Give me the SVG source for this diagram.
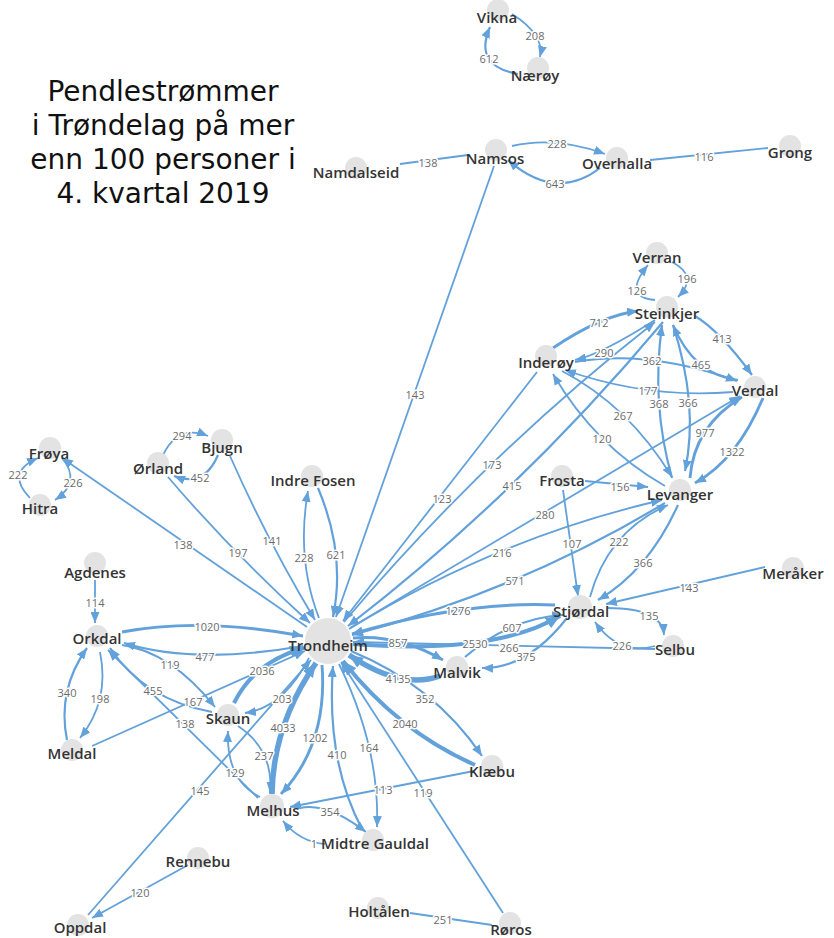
<svg xmlns="http://www.w3.org/2000/svg" width="834" height="938" viewBox="0 0 834 938">
<style>
.e{fill:none;stroke:#62a1da;stroke-linecap:butt}
.w1{stroke-width:1.8}.w2{stroke-width:2.2}.w3{stroke-width:2.9}.w4{stroke-width:4}.w5{stroke-width:5.5}
.m{marker-end:url(#a)}.M{marker-end:url(#b)}
.l{font-family:"Open Sans","Liberation Sans",sans-serif;font-size:11px;fill:#6a6a6a;text-anchor:middle;dominant-baseline:central;stroke:#fff;stroke-width:3px;paint-order:stroke;stroke-linejoin:round}
.n circle{fill:#e3e3e3}
.n text{font-family:"Open Sans","Liberation Sans",sans-serif;font-size:15px;font-weight:600;fill:#333;text-anchor:middle;dominant-baseline:central}
.t{font-family:"DejaVu Sans","Liberation Sans",sans-serif;font-size:28px;fill:#111;text-anchor:middle}
</style>
<defs>
<marker id="a" markerUnits="userSpaceOnUse" markerWidth="11" markerHeight="9" refX="11" refY="4.5" orient="auto"><path d="M0,0L11,4.5L0,9z" fill="#62a1da"/></marker>
<marker id="b" markerUnits="userSpaceOnUse" markerWidth="14" markerHeight="12" refX="14" refY="6" orient="auto"><path d="M0,0L14,6L0,12z" fill="#62a1da"/></marker>
</defs>
<rect width="834" height="938" fill="#fff"/>
<g id="title">
<text class="t" x="163" y="101">Pendlestrømmer</text>
<text class="t" x="163" y="135">i Trøndelag på mer</text>
<text class="t" x="163" y="169">enn 100 personer i</text>
<text class="t" x="163" y="203">4. kvartal 2019</text>
</g>
<g id="connectors">
<path class="e w1 m" d="M512,14Q545,35 540,57"/>
<path class="e w2 m" d="M518,74Q473,66 490,27"/>
<path class="e w1" d="M400,164L468,155"/>
<path class="e w1 m" d="M512,146Q556,136 605,154"/>
<path class="e w2 m" d="M600,168Q556,202 508,160"/>
<path class="e w1" d="M650,160L768,148"/>
<path class="e w1 m" d="M494,166L336,617"/>
<path class="e w1 m" d="M655,300Q622,297 648,265"/>
<path class="e w1 m" d="M672,262Q699,276 678,297"/>
<path class="e w3 m" d="M553,348Q602,315 638,311"/>
<path class="e w1 m" d="M655,320Q600,355 575,360"/>
<path class="e w2 m" d="M575,362Q648,349 737,381"/>
<path class="e w2 m" d="M695,316Q720,331 752,375"/>
<path class="e w2 m" d="M738,380Q694,375 673,325"/>
<path class="e w1 m" d="M733,392Q647,399 565,370"/>
<path class="e w2 m" d="M672,478Q651,404 662,325"/>
<path class="e w2 m" d="M673,325Q699,406 685,471"/>
<path class="e w1 m" d="M562,371Q629,406 672,477"/>
<path class="e w1 m" d="M665,486Q595,446 553,374"/>
<path class="e w3 m" d="M690,478Q694,426 742,397"/>
<path class="e w3 m" d="M763,398Q737,460 695,483"/>
<path class="e w1 m" d="M537,372L343,621"/>
<path class="e w1 m" d="M344,622Q484,456 655,322"/>
<path class="e w2 m" d="M663,322Q517,496 348,626"/>
<path class="e w1 m" d="M350,628L740,396"/>
<path class="e w1 m" d="M349,629Q497,538 662,500"/>
<path class="e w2 m" d="M665,503Q521,590 352,635"/>
<path class="e w1 m" d="M590,597Q608,531 668,505"/>
<path class="e w2 m" d="M678,505Q648,571 598,600"/>
<path class="e w1 m" d="M585,481L648,487"/>
<path class="e w1 m" d="M563,490L578,596"/>
<path class="e w1 m" d="M765,567L606,604"/>
<path class="e w1 m" d="M608,608Q662,608 664,635"/>
<path class="e w1 m" d="M655,646Q619,656 595,622"/>
<path class="e w3 m" d="M555,605Q462,601 352,634"/>
<path class="e w2 m" d="M465,657Q510,618 563,615"/>
<path class="e w2 m" d="M567,618Q527,669 482,668"/>
<path class="e w4 M" d="M353,644Q494,655 560,616"/>
<path class="e w1 m" d="M655,649L353,642"/>
<path class="e w3 m" d="M353,638Q398,634 443,660"/>
<path class="e w5 M" d="M440,676Q401,690 349,655"/>
<path class="e w2 m" d="M351,651Q434,685 482,756"/>
<path class="e w4 M" d="M475,765Q398,731 343,661"/>
<path class="e w1 m" d="M503,913L341,662"/>
<path class="e w1 m" d="M474,771L290,807"/>
<path class="e w1 m" d="M339,664Q380,748 377,827"/>
<path class="e w2 m" d="M362,829Q326,761 333,666"/>
<path class="e w3 m" d="M322,665Q328,744 281,794"/>
<path class="e w5 M" d="M272,794Q273,725 316,663"/>
<path class="e w2 m" d="M300,808Q327,802 366,832"/>
<path class="e w1 m" d="M325,844Q300,842 283,821"/>
<path class="e w1 m" d="M238,726Q274,750 270,793"/>
<path class="e w1 m" d="M260,797Q226,780 228,731"/>
<path class="e w1 m" d="M258,798L108,650"/>
<path class="e w2 m" d="M212,712Q145,700 110,648"/>
<path class="e w1 m" d="M122,645Q171,652 215,707"/>
<path class="e w1 m" d="M92,746L305,651"/>
<path class="e w4 M" d="M234,703Q254,662 304,648"/>
<path class="e w1 m" d="M309,658Q283,708 245,713"/>
<path class="e w1 m" d="M88,915L311,660"/>
<path class="e w1 m" d="M188,865L92,918"/>
<path class="e w1" d="M410,913L492,925"/>
<path class="e w3 m" d="M122,632Q200,617 303,636"/>
<path class="e w2 m" d="M303,646Q195,665 124,643"/>
<path class="e w1 m" d="M95,580L95,623"/>
<path class="e w2 m" d="M67,740Q57,690 87,648"/>
<path class="e w1 m" d="M100,652Q110,701 80,738"/>
<path class="e w1 m" d="M30,498Q5,472 38,458"/>
<path class="e w1 m" d="M62,458Q82,482 55,500"/>
<path class="e w1 m" d="M307,627L62,458"/>
<path class="e w1 m" d="M163,455Q178,424 208,436"/>
<path class="e w2 m" d="M218,455Q204,488 174,476"/>
<path class="e w1 m" d="M168,477Q233,553 310,623"/>
<path class="e w1 m" d="M230,456Q268,542 315,620"/>
<path class="e w1 m" d="M319,618Q296,559 308,491"/>
<path class="e w2 m" d="M318,488Q346,554 333,617"/>
</g>
<g id="connector-labels">
<text class="l" x="535" y="35">208</text>
<text class="l" x="489" y="58">612</text>
<text class="l" x="428" y="162">138</text>
<text class="l" x="557" y="143">228</text>
<text class="l" x="555" y="183">643</text>
<text class="l" x="704" y="156">116</text>
<text class="l" x="415" y="394">143</text>
<text class="l" x="637" y="290">126</text>
<text class="l" x="687" y="278">196</text>
<text class="l" x="599" y="322">712</text>
<text class="l" x="604" y="352">290</text>
<text class="l" x="652" y="360">362</text>
<text class="l" x="722" y="338">413</text>
<text class="l" x="701" y="364">465</text>
<text class="l" x="648" y="390">177</text>
<text class="l" x="659" y="403">368</text>
<text class="l" x="688" y="402">366</text>
<text class="l" x="623" y="415">267</text>
<text class="l" x="602" y="438">120</text>
<text class="l" x="705" y="432">977</text>
<text class="l" x="732" y="451">1322</text>
<text class="l" x="442" y="498">123</text>
<text class="l" x="492" y="464">173</text>
<text class="l" x="512" y="485">415</text>
<text class="l" x="545" y="514">280</text>
<text class="l" x="502" y="552">216</text>
<text class="l" x="515" y="580">571</text>
<text class="l" x="619" y="541">222</text>
<text class="l" x="643" y="562">366</text>
<text class="l" x="620" y="486">156</text>
<text class="l" x="572" y="543">107</text>
<text class="l" x="689" y="587">143</text>
<text class="l" x="649" y="615">135</text>
<text class="l" x="622" y="645">226</text>
<text class="l" x="458" y="610">1276</text>
<text class="l" x="512" y="627">607</text>
<text class="l" x="526" y="656">375</text>
<text class="l" x="475" y="643">2530</text>
<text class="l" x="509" y="647">266</text>
<text class="l" x="398" y="642">857</text>
<text class="l" x="398" y="678">4135</text>
<text class="l" x="425" y="698">352</text>
<text class="l" x="405" y="723">2040</text>
<text class="l" x="423" y="792">119</text>
<text class="l" x="383" y="789">113</text>
<text class="l" x="369" y="747">164</text>
<text class="l" x="337" y="754">410</text>
<text class="l" x="315" y="737">1202</text>
<text class="l" x="283" y="727">4033</text>
<text class="l" x="330" y="811">354</text>
<text class="l" x="314" y="843">1</text>
<text class="l" x="264" y="755">237</text>
<text class="l" x="235" y="772">129</text>
<text class="l" x="185" y="723">138</text>
<text class="l" x="153" y="690">455</text>
<text class="l" x="170" y="664">119</text>
<text class="l" x="193" y="701">167</text>
<text class="l" x="262" y="670">2036</text>
<text class="l" x="282" y="698">203</text>
<text class="l" x="200" y="790">145</text>
<text class="l" x="140" y="892">120</text>
<text class="l" x="443" y="919">251</text>
<text class="l" x="207" y="626">1020</text>
<text class="l" x="205" y="656">477</text>
<text class="l" x="95" y="602">114</text>
<text class="l" x="67" y="692">340</text>
<text class="l" x="100" y="698">198</text>
<text class="l" x="18" y="474">222</text>
<text class="l" x="73" y="482">226</text>
<text class="l" x="183" y="544">138</text>
<text class="l" x="182" y="435">294</text>
<text class="l" x="200" y="477">452</text>
<text class="l" x="238" y="552">197</text>
<text class="l" x="272" y="540">141</text>
<text class="l" x="304" y="557">228</text>
<text class="l" x="336" y="554">621</text>
</g>
<g id="n-vikna" class="n"><circle cx="498" cy="10" r="11"/><text x="497" y="17">Vikna</text></g>
<g id="n-naroy" class="n"><circle cx="538" cy="68" r="11"/><text x="535" y="75">Nærøy</text></g>
<g id="n-namsos" class="n"><circle cx="496" cy="150" r="11"/><text x="495" y="158">Namsos</text></g>
<g id="n-namdalseid" class="n"><circle cx="356" cy="168" r="11"/><text x="356" y="172">Namdalseid</text></g>
<g id="n-overhalla" class="n"><circle cx="617" cy="158" r="11"/><text x="617" y="163">Overhalla</text></g>
<g id="n-grong" class="n"><circle cx="790" cy="146" r="11"/><text x="790" y="152">Grong</text></g>
<g id="n-verran" class="n"><circle cx="657" cy="253" r="11"/><text x="657" y="257">Verran</text></g>
<g id="n-steinkjer" class="n"><circle cx="667" cy="307" r="11"/><text x="667" y="313">Steinkjer</text></g>
<g id="n-inderoy" class="n"><circle cx="546" cy="356" r="11"/><text x="546" y="362">Inderøy</text></g>
<g id="n-verdal" class="n"><circle cx="755" cy="387" r="11"/><text x="755" y="390">Verdal</text></g>
<g id="n-levanger" class="n"><circle cx="680" cy="490" r="11"/><text x="680" y="494">Levanger</text></g>
<g id="n-frosta" class="n"><circle cx="562" cy="476" r="11"/><text x="562" y="480">Frosta</text></g>
<g id="n-meraker" class="n"><circle cx="793" cy="568" r="11"/><text x="793" y="573">Meråker</text></g>
<g id="n-stjordal" class="n"><circle cx="580" cy="607" r="12"/><text x="581" y="611">Stjørdal</text></g>
<g id="n-selbu" class="n"><circle cx="673" cy="646" r="11"/><text x="675" y="649">Selbu</text></g>
<g id="n-malvik" class="n"><circle cx="457" cy="667" r="11"/><text x="457" y="672">Malvik</text></g>
<g id="n-trondheim" class="n"><circle cx="328" cy="641" r="23"/><text x="328" y="645">Trondheim</text></g>
<g id="n-klabu" class="n"><circle cx="492" cy="766" r="11"/><text x="492" y="771">Klæbu</text></g>
<g id="n-melhus" class="n"><circle cx="272" cy="806" r="12"/><text x="273" y="810">Melhus</text></g>
<g id="n-midtregauldal" class="n"><circle cx="373" cy="840" r="11"/><text x="375" y="843">Midtre Gauldal</text></g>
<g id="n-skaun" class="n"><circle cx="228" cy="715" r="11"/><text x="228" y="718">Skaun</text></g>
<g id="n-orkdal" class="n"><circle cx="97" cy="636" r="11"/><text x="97" y="638">Orkdal</text></g>
<g id="n-meldal" class="n"><circle cx="72" cy="750" r="11"/><text x="72" y="753">Meldal</text></g>
<g id="n-agdenes" class="n"><circle cx="95" cy="563" r="11"/><text x="95" y="572">Agdenes</text></g>
<g id="n-froya" class="n"><circle cx="50" cy="448" r="11"/><text x="49" y="453">Frøya</text></g>
<g id="n-hitra" class="n"><circle cx="40" cy="505" r="11"/><text x="40" y="508">Hitra</text></g>
<g id="n-orland" class="n"><circle cx="158" cy="463" r="11"/><text x="158" y="468">Ørland</text></g>
<g id="n-bjugn" class="n"><circle cx="222" cy="440" r="11"/><text x="222" y="447">Bjugn</text></g>
<g id="n-indrefosen" class="n"><circle cx="312" cy="476" r="11"/><text x="313" y="480">Indre Fosen</text></g>
<g id="n-rennebu" class="n"><circle cx="198" cy="858" r="11"/><text x="198" y="861">Rennebu</text></g>
<g id="n-oppdal" class="n"><circle cx="78" cy="925" r="11"/><text x="80" y="927">Oppdal</text></g>
<g id="n-holtalen" class="n"><circle cx="378" cy="908" r="11"/><text x="379" y="911">Holtålen</text></g>
<g id="n-roros" class="n"><circle cx="510" cy="923" r="11"/><text x="511" y="929">Røros</text></g>
</svg>
